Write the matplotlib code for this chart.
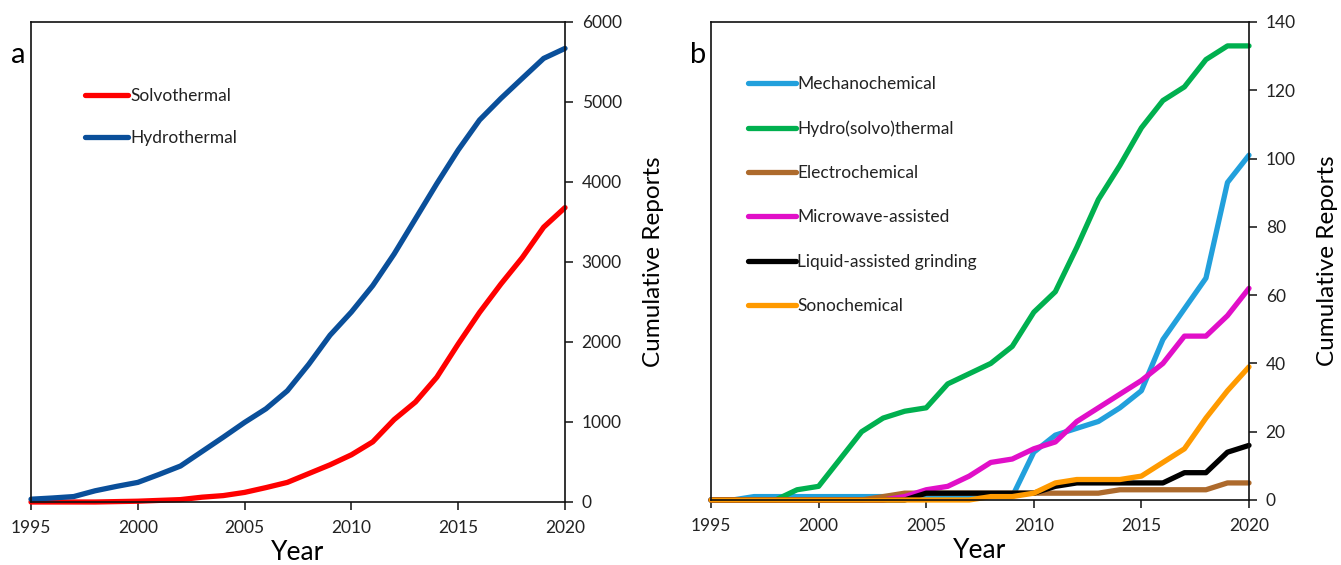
import matplotlib
matplotlib.use("Agg")
import matplotlib.pyplot as plt

plt.rcParams['font.family'] = ['Lato', 'DejaVu Sans']

years = list(range(1995, 2021))

solvothermal = [0, 0, 0, 0, 5, 10, 20, 30, 60, 80, 120, 180, 245, 355, 465, 590, 752, 1030, 1250, 1560, 1975, 2370, 2725, 3055, 3435, 3680]
hydrothermal = [35, 50, 68, 140, 195, 245, 345, 450, 630, 810, 995, 1165, 1390, 1720, 2085, 2375, 2705, 3100, 3540, 3980, 4400, 4775, 5045, 5296, 5545, 5670]

mechanochemical = [0, 0, 1, 1, 1, 1, 1, 1, 1, 1, 1, 1, 1, 1, 1, 14, 19, 21, 23, 27, 32, 47, 56, 65, 93, 101]
hydro_solvo = [0, 0, 0, 0, 3, 4, 12, 20, 24, 26, 27, 34, 37, 40, 45, 55, 61, 74, 88, 98, 109, 117, 121, 129, 133, 133]
electrochemical = [0, 0, 0, 0, 0, 0, 0, 0, 1, 2, 2, 2, 2, 2, 2, 2, 2, 2, 2, 3, 3, 3, 3, 3, 5, 5]
microwave = [0, 0, 0, 0, 0, 0, 0, 0, 0, 1, 3, 4, 7, 11, 12, 15, 17, 23, 27, 31, 35, 40, 48, 48, 54, 62]
lag = [0, 0, 0, 0, 0, 0, 0, 0, 0, 0, 2, 2, 2, 2, 2, 2, 4, 5, 5, 5, 5, 5, 8, 8, 14, 16]
sonochemical = [0, 0, 0, 0, 0, 0, 0, 0, 0, 0, 0, 0, 0, 1, 1, 2, 5, 6, 6, 6, 7, 11, 15, 24, 32, 39]

left_series = [("Solvothermal", solvothermal, "#FF0000"),
               ("Hydrothermal", hydrothermal, "#0A4F9A")]
right_series = [("Mechanochemical", mechanochemical, "#22A0DC"),
                ("Hydro(solvo)thermal", hydro_solvo, "#00B04F"),
                ("Electrochemical", electrochemical, "#AD6A2C"),
                ("Microwave-assisted", microwave, "#E10FC8"),
                ("Liquid-assisted grinding", lag, "#000000"),
                ("Sonochemical", sonochemical, "#FF9A00")]

fig = plt.figure(figsize=(13.41, 5.65), dpi=100)
axL = fig.add_axes([31/1341, 63/565, 534/1341, 480/565])
axR = fig.add_axes([711/1341, 65/565, 538/1341, 478/565])

def style(ax, ymax, ystep):
    ax.set_xlim(1995, 2020)
    ax.set_ylim(0, ymax)
    ax.set_xticks(range(1995, 2021, 5))
    ax.set_yticks(range(0, ymax + 1, ystep))
    ax.yaxis.tick_right()
    ax.yaxis.set_label_position("right")
    ax.tick_params(axis='both', direction='out', length=6, width=1.2, labelsize=12.5, colors='#222222', pad=6)
    ax.tick_params(axis='x', pad=7)
    for s in ax.spines.values():
        s.set_linewidth(1.2)
        s.set_color('#111111')
    ax.set_xlabel("Year", fontsize=19, labelpad=3)
    ax.set_ylabel("Cumulative Reports", fontsize=17.5, labelpad=15)

for name, vals, c in left_series:
    axL.plot(years, vals, color=c, lw=3.8, label=name, solid_capstyle='round', clip_on=False)
for name, vals, c in right_series:
    axR.plot(years, vals, color=c, lw=3.8, label=name, solid_capstyle='round', clip_on=False)

style(axL, 6000, 1000)
style(axR, 140, 20)

legkw = dict(frameon=False, fontsize=12.5, handletextpad=0.1, borderaxespad=0)
lgL = axL.legend(loc='upper left', bbox_to_anchor=(47/534, 1 - 59/480),
                 handlelength=2.5, labelspacing=1.5, **legkw)
lgR = axR.legend(loc='upper left', bbox_to_anchor=(30/538, 1 - 47/478),
                 handlelength=2.75, labelspacing=1.63, **legkw)
for lg in (lgL, lgR):
    for t in lg.get_texts():
        t.set_color('#222222')
    for h in lg.legend_handles:
        h.set_solid_capstyle('round')

fig.text(18/1341, 1 - 55/565, "a", fontsize=21, va='center', ha='center')
fig.text(698/1341, 1 - 55/565, "b", fontsize=21, va='center', ha='center')

fig.savefig("out.png", dpi=100)
